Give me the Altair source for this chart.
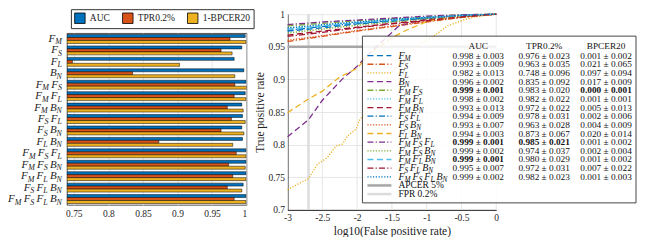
import altair as alt
import pandas as pd

# ---------------- data ----------------
combos = ["F_M", "F_S", "F_L", "B_N", "F_M F_S", "F_M F_L", "F_M B_N", "F_S F_L", "F_S B_N",
          "F_L B_N", "F_M F_S F_L", "F_M F_S B_N", "F_M F_L B_N", "F_S F_L B_N", "F_M F_S F_L B_N"]
auc_mean = [0.998, 0.993, 0.982, 0.996, 0.999, 0.998, 0.993, 0.994, 0.993, 0.994, 0.999, 0.999, 0.999, 0.995, 0.999]
auc_std = [0.003, 0.009, 0.013, 0.002, 0.001, 0.002, 0.013, 0.009, 0.007, 0.003, 0.001, 0.002, 0.001, 0.007, 0.002]
tpr_mean = [0.976, 0.963, 0.748, 0.835, 0.983, 0.982, 0.972, 0.978, 0.963, 0.873, 0.985, 0.974, 0.980, 0.972, 0.982]
tpr_std = [0.023, 0.035, 0.096, 0.092, 0.020, 0.022, 0.022, 0.031, 0.028, 0.067, 0.021, 0.037, 0.029, 0.031, 0.023]
bpcer_mean = [0.001, 0.021, 0.097, 0.017, 0.000, 0.001, 0.005, 0.002, 0.004, 0.020, 0.001, 0.002, 0.001, 0.007, 0.001]
bpcer_std = [0.002, 0.065, 0.094, 0.009, 0.001, 0.001, 0.013, 0.006, 0.009, 0.014, 0.002, 0.004, 0.002, 0.022, 0.003]
bold_auc = [4, 10, 12]
bold_tpr = [10]
bold_bpcer = [4]

series = ["AUC", "TPR0.2%", "1-BPCER20"]
series_colors = ["#0072BD", "#D95319", "#EDB120"]

# ROC curves (log10 FPR, TPR)
grid_x = [-3.0, -2.5, -2.0, -1.5, -1.0, -0.5, 0.0]
curve_x = {
    "F_L": [-3.0, -2.7, -2.57, -2.43, -2.3, -2.21, -2.14, -2.01, -1.97, -1.87, -1.78, -1.61, -1.51, -1.3, -1.1, -0.93, -0.7, -0.5, -0.3, 0.0],
    "B_N": [-3.0, -2.7, -2.5, -2.2, -2.0, -1.87, -1.6, -1.4, -1.0, -0.5, 0.0],
    "F_L B_N": [-3.0, -2.7, -2.5, -2.26, -2.0, -1.83, -1.5, -1.3, -0.97, -0.5, 0.0],
}
curve_y = {
    "F_M": [0.974, 0.979, 0.985, 0.989, 0.994, 0.998, 1.0],
    "F_S": [0.958, 0.966, 0.974, 0.981, 0.988, 0.995, 1.0],
    "F_L": [0.731, 0.748, 0.770, 0.780, 0.798, 0.801, 0.813, 0.824, 0.837, 0.849, 0.867, 0.892, 0.910, 0.935, 0.955, 0.964, 0.982, 0.990, 0.996, 1.0],
    "B_N": [0.812, 0.838, 0.868, 0.902, 0.920, 0.935, 0.962, 0.982, 0.993, 0.998, 1.0],
    "F_M F_S": [0.982, 0.986, 0.990, 0.993, 0.996, 0.999, 1.0],
    "F_M F_L": [0.978, 0.983, 0.988, 0.992, 0.995, 0.998, 1.0],
    "F_M B_N": [0.968, 0.974, 0.980, 0.986, 0.991, 0.996, 1.0],
    "F_S F_L": [0.975, 0.981, 0.986, 0.990, 0.994, 0.998, 1.0],
    "F_S B_N": [0.960, 0.967, 0.975, 0.982, 0.989, 0.995, 1.0],
    "F_L B_N": [0.849, 0.870, 0.882, 0.903, 0.917, 0.938, 0.964, 0.975, 0.990, 0.997, 1.0],
    "F_M F_S F_L": [0.984, 0.988, 0.991, 0.994, 0.997, 0.999, 1.0],
    "F_M F_S B_N": [0.971, 0.977, 0.983, 0.988, 0.993, 0.997, 1.0],
    "F_M F_L B_N": [0.977, 0.982, 0.987, 0.991, 0.995, 0.998, 1.0],
    "F_S F_L B_N": [0.966, 0.972, 0.979, 0.985, 0.990, 0.996, 1.0],
    "F_M F_S F_L B_N": [0.979, 0.984, 0.988, 0.992, 0.995, 0.998, 1.0],
}
ref_names = ["APCER 5%", "FPR 0.2%"]
apcer_level = 0.95
fpr_level = -2.699
x_ticks = [-3, -2.5, -2, -1.5, -1, -0.5, 0]
y_ticks = [0.7, 0.75, 0.8, 0.85, 0.9, 0.95, 1.0]
bar_ticks = [0.75, 0.8, 0.85, 0.9, 0.95, 1.0]

line_colors = (["#0072BD", "#D95319", "#EDB120", "#7E2F8E", "#77AC30", "#4DBEEE", "#A2142F"] * 3)[:15]
line_colors = line_colors + ["#a6a6a6", "#dcdcdc"]
dash_cycle = [[6, 3.5], [6, 2.2, 1.2, 2.2], [1.2, 1.6]]
line_dashes = [dash_cycle[i % 3] for i in range(15)] + [[1, 0], [1, 0]]
all_keys = combos + ref_names

FONT = "Liberation Serif"
MAIN_W = {"F": 0.611, "B": 0.611}
SUB_W = {"M": 0.833, "S": 0.5, "L": 0.556, "N": 0.667}


def label_pieces(name, fs_main, fs_sub, gap):
    out, pos = [], 0.0
    for tok in name.split(" "):
        m, s = tok.split("_")
        out.append(("main", m, pos))
        pos += MAIN_W[m] * fs_main
        out.append(("sub", s, pos))
        pos += SUB_W[s] * fs_sub + gap
    return out, pos - gap


# ---------------- left: category labels + bars ----------------
LW, BW, BH = 52, 180, 172
band_scale = alt.Scale(domain=combos, paddingInner=0.22, paddingOuter=0.12)

lab_rows = []
for c in combos:
    pcs, total = label_pieces(c, 11, 8, 2.2)
    start = LW - 3 - total
    for kind, ch, off in pcs:
        lab_rows.append({"cat": c, "kind": kind, "ch": ch, "px": start + off})
lab_df = pd.DataFrame(lab_rows)
lab_main = alt.Chart(lab_df[lab_df.kind == "main"]).mark_text(
    align="left", baseline="middle", font=FONT, fontSize=11, fontStyle="italic", color="#222"
).encode(y=alt.Y("cat:N", sort=combos, scale=band_scale, axis=None),
         x=alt.X("px:Q", scale=None), text="ch:N")
lab_sub = alt.Chart(lab_df[lab_df.kind == "sub"]).mark_text(
    align="left", baseline="middle", font=FONT, fontSize=8, fontStyle="italic", color="#222", dy=3.5
).encode(y=alt.Y("cat:N", sort=combos, scale=band_scale, axis=None),
         x=alt.X("px:Q", scale=None), text="ch:N")
label_chart = alt.layer(lab_main, lab_sub).properties(width=LW, height=BH)

bar_rows = []
for i, c in enumerate(combos):
    bar_rows.append({"cat": c, "series": "AUC", "value": auc_mean[i]})
    bar_rows.append({"cat": c, "series": "TPR0.2%", "value": tpr_mean[i]})
    bar_rows.append({"cat": c, "series": "1-BPCER20", "value": round(1 - bpcer_mean[i], 3)})
bar_df = pd.DataFrame(bar_rows)

bars = alt.Chart(bar_df).mark_bar(stroke="black", strokeWidth=0.5, clip=True).encode(
    y=alt.Y("cat:N", sort=combos, title=None, scale=band_scale, axis=None),
    yOffset=alt.YOffset("series:N", sort=series, scale=alt.Scale(paddingInner=0, paddingOuter=0)),
    x=alt.X("value:Q", scale=alt.Scale(domain=[0.74, 1.0], nice=False, zero=False),
            axis=alt.Axis(values=bar_ticks, labelExpr="'' + datum.value",
                          title=None, grid=True, gridColor="#e6e6e6", ticks=False, domain=False,
                          labelFontSize=9.5, labelPadding=4, labelOverlap=False)),
    x2=alt.datum(0.74),
    color=alt.Color("series:N", sort=series,
                    scale=alt.Scale(domain=series, range=series_colors),
                    legend=alt.Legend(title=None, orient="none", legendX=4, legendY=-24,
                                      direction="horizontal", symbolType="square", symbolSize=110,
                                      symbolStrokeColor="black", symbolStrokeWidth=0.8,
                                      symbolOpacity=1, labelFont=FONT, labelFontSize=9.5,
                                      labelColor="#222", strokeColor="#333", fillColor="white",
                                      padding=3, columnPadding=10, labelOffset=4)),
).properties(width=BW, height=BH,
             view=alt.ViewBackground(stroke="#262626", strokeWidth=0.8))

# ---------------- right: ROC curves ----------------
W = 209
R_TOP, R_BOT = -19, 177      # pixel extent of the y range relative to the row origin
HT = R_BOT - R_TOP


def px_x(p):
    return -3.0 + p * 3.0 / W


def py_y(p):
    return 1.0 - p * 0.3 / HT


curve_rows = []
for c in combos:
    xs = curve_x.get(c, grid_x)
    for j, (a, b) in enumerate(zip(xs, curve_y[c])):
        curve_rows.append({"curve": c, "x": a, "y": b, "i": j})
curve_df = pd.DataFrame(curve_rows)

xscale = alt.Scale(domain=[-3, 0], nice=False, zero=False)
yscale = alt.Scale(domain=[0.7, 1.0], range=[R_BOT, R_TOP], nice=False, zero=False)
xaxis = alt.Axis(values=x_ticks, labelExpr="'' + datum.value", labelOverlap=False,
                 labelFlush=False, title="log10(False positive rate)", grid=False, labelFontSize=9.5)
yaxis = alt.Axis(values=y_ticks, labelExpr="'' + datum.value", labelOverlap=False,
                 labelFlush=False, title="True positive rate", grid=True, labelFontSize=9.5,
                 titlePadding=2)
X = alt.X("x:Q", scale=xscale, axis=xaxis)
Y = alt.Y("y:Q", scale=yscale, axis=yaxis)
color_enc = alt.Color("curve:N", scale=alt.Scale(domain=all_keys, range=line_colors), legend=None)
dash_enc = alt.StrokeDash("curve:N", scale=alt.Scale(domain=all_keys, range=line_dashes), legend=None)

vgrid = alt.Chart(pd.DataFrame({"x": x_ticks, "y": [0.7] * 7, "ye": [1.0] * 7})).mark_rule(
    color="#e6e6e6", strokeWidth=1).encode(x=X, y=Y, y2="ye:Q")
fpr_rule = alt.Chart(pd.DataFrame({"x": [fpr_level], "y": [0.7], "ye": [1.0]})).mark_rule(
    strokeWidth=2.5, color="#dcdcdc").encode(x=X, y=Y, y2="ye:Q")
apcer_rule = alt.Chart(pd.DataFrame({"y": [apcer_level]})).mark_rule(
    strokeWidth=2.5, color="#a6a6a6").encode(y=Y)

curves = alt.Chart(curve_df).mark_line(clip=False, strokeWidth=1.3).encode(
    x=X, y=Y, color=color_enc, strokeDash=dash_enc, order="i:Q")

# legend table (layout in pixels inside the plot, converted to data units)
box_l, box_r, box_t, box_b = 75, 349, 22, 189
box_df = pd.DataFrame({"x": [px_x(box_l)], "xe": [px_x(box_r)], "y": [py_y(box_t)], "ye": [py_y(box_b)]})
box = alt.Chart(box_df).mark_rect(fill="white", fillOpacity=0.85, stroke="#333",
                                  strokeWidth=0.9, clip=False).encode(
    x=X, x2="xe:Q", y=Y, y2="ye:Q")

row_y = [41.5 + k * 8.67 for k in range(17)]
sample_df = pd.DataFrame({"curve": all_keys, "x": [px_x(box_l + 5)] * 17,
                          "xe": [px_x(box_l + 29)] * 17, "y": [py_y(v) for v in row_y]})
samples = alt.Chart(sample_df[sample_df.curve.isin(combos)]).mark_rule(
    strokeWidth=1.3, clip=False).encode(x=X, x2="xe:Q", y=Y, color=color_enc, strokeDash=dash_enc)
samples_ref = alt.Chart(sample_df[sample_df.curve.isin(ref_names)]).mark_rule(
    strokeWidth=2.5, clip=False).encode(x=X, x2="xe:Q", y=Y, color=color_enc)

leg_rows = []
for k, c in enumerate(combos):
    pcs, _ = label_pieces(c, 10, 7.3, 2.0)
    for kind, ch, off in pcs:
        leg_rows.append({"kind": kind, "t": ch, "x": px_x(box_l + 36 + off), "y": py_y(row_y[k])})
for k, c in enumerate(ref_names):
    leg_rows.append({"kind": "plain", "t": c, "x": px_x(box_l + 36), "y": py_y(row_y[15 + k])})
leg_df = pd.DataFrame(leg_rows)
leg_main = alt.Chart(leg_df[leg_df.kind == "main"]).mark_text(
    align="left", baseline="middle", font=FONT, fontSize=10, fontStyle="italic",
    color="#111", clip=False).encode(x=X, y=Y, text="t:N")
leg_sub = alt.Chart(leg_df[leg_df.kind == "sub"]).mark_text(
    align="left", baseline="middle", font=FONT, fontSize=7.3, fontStyle="italic",
    color="#111", clip=False, dy=3).encode(x=X, y=Y, text="t:N")
leg_plain = alt.Chart(leg_df[leg_df.kind == "plain"]).mark_text(
    align="left", baseline="middle", font=FONT, fontSize=9.5, color="#111",
    clip=False).encode(x=X, y=Y, text="t:N")

col_cx = [box_l + 116, box_l + 182, box_l + 244]
headers = ["AUC", "TPR0.2%", "BPCER20"]
cell_rows = []
for k, h in enumerate(headers):
    cell_rows.append({"t": h, "x": px_x(col_cx[k]), "y": py_y(32), "b": False})
stats = [(auc_mean, auc_std, bold_auc), (tpr_mean, tpr_std, bold_tpr), (bpcer_mean, bpcer_std, bold_bpcer)]
for k, (m, s, bl) in enumerate(stats):
    for i in range(15):
        cell_rows.append({"t": f"{m[i]:.3f} ± {s[i]:.3f}", "x": px_x(col_cx[k]),
                          "y": py_y(row_y[i]), "b": i in bl})
cell_df = pd.DataFrame(cell_rows)
cells = alt.Chart(cell_df[~cell_df.b]).mark_text(
    align="center", baseline="middle", font=FONT, fontSize=9.3, color="#111",
    clip=False).encode(x=X, y=Y, text="t:N")
cells_b = alt.Chart(cell_df[cell_df.b]).mark_text(
    align="center", baseline="middle", font=FONT, fontSize=9.3, fontWeight="bold",
    color="#111", clip=False).encode(x=X, y=Y, text="t:N")

right = alt.layer(vgrid, fpr_rule, apcer_rule, curves, box, samples, samples_ref,
                  leg_main, leg_sub, leg_plain, cells, cells_b).properties(width=W, height=R_BOT)

chart = alt.hconcat(label_chart, bars, right, spacing=0).resolve_scale(
    color="independent", strokeDash="independent"
).properties(padding=0).configure_view(stroke=None).configure_concat(spacing=0).configure_axis(
    labelFont=FONT, labelFontSize=10, labelColor="#262626",
    titleFont=FONT, titleFontSize=11.5, titleFontWeight="normal", titleColor="#222",
    domainColor="#262626", gridColor="#e6e6e6", ticks=False, labelPadding=3, titlePadding=3
)

chart.save("out.html", embed_options={"renderer": "svg", "actions": False})
